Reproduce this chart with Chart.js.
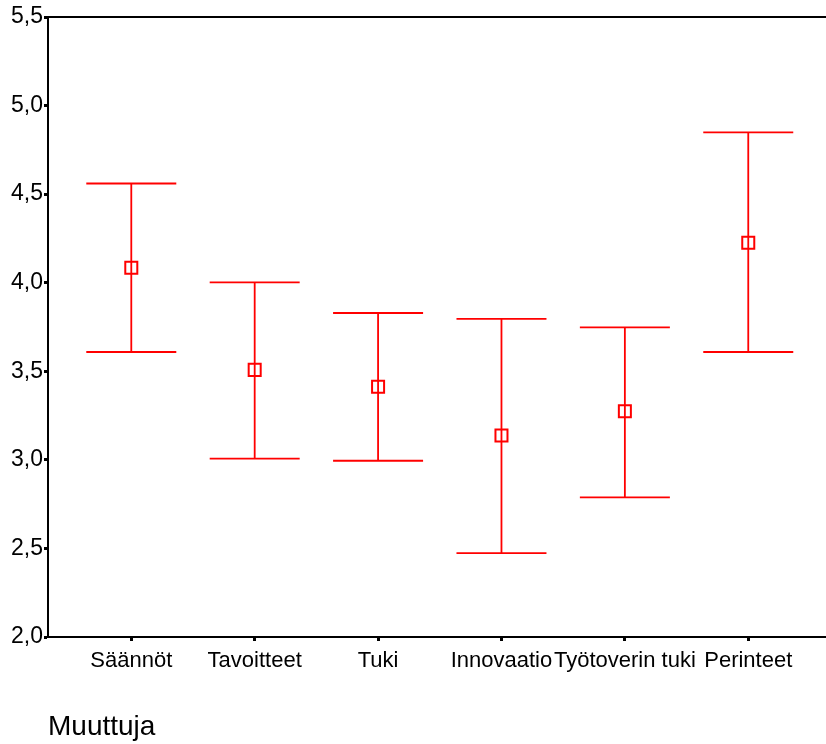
<!DOCTYPE html>
<html>
<head>
<meta charset="utf-8">
<script src="https://cdn.jsdelivr.net/npm/chart.js@4.4.1/dist/chart.umd.min.js"></script>
<style>
  html, body { margin: 0; padding: 0; background: #fff; }
  #wrap { width: 826px; height: 744px; }
</style>
</head>
<body>
<div id="wrap"><canvas id="myChart" width="826" height="744"></canvas></div>
<script>
// data
const categories = ["Säännöt", "Tavoitteet", "Tuki", "Innovaatio", "Työtoverin tuki", "Perinteet"];
const means = [4.085, 3.508, 3.413, 3.137, 3.274, 4.225];
const lower = [3.609, 3.007, 2.995, 2.474, 2.788, 3.609];
const upper = [4.560, 4.002, 3.829, 3.796, 3.748, 4.849];
const yTicks = [2.0, 2.5, 3.0, 3.5, 4.0, 4.5, 5.0, 5.5];

const red = "#ff0000";

// draws the error bars (vertical line + caps) using the chart scales
const errorBars = {
  id: "errorBars",
  afterDatasetsDraw(chart) {
    const ctx = chart.ctx;
    const xs = chart.scales.x;
    const ys = chart.scales.y;
    const cap = 45;
    ctx.save();
    ctx.strokeStyle = red;
    ctx.lineWidth = 1.8;
    categories.forEach((c, i) => {
      const px = xs.getPixelForValue(i + 1);
      const yu = ys.getPixelForValue(upper[i]);
      const yl = ys.getPixelForValue(lower[i]);
      ctx.beginPath();
      ctx.moveTo(px, yu);
      ctx.lineTo(px, yl);
      ctx.moveTo(px - cap, yu);
      ctx.lineTo(px + cap, yu);
      ctx.moveTo(px - cap, yl);
      ctx.lineTo(px + cap, yl);
      ctx.stroke();
    });
    ctx.restore();
  }
};

// top frame line
const topLine = {
  id: "topLine",
  afterDraw(chart) {
    const { ctx, chartArea } = chart;
    ctx.save();
    ctx.strokeStyle = "#000";
    ctx.lineWidth = 2;
    ctx.beginPath();
    ctx.moveTo(chartArea.left - 1, chartArea.top);
    ctx.lineTo(chart.width, chartArea.top);
    ctx.stroke();
    ctx.restore();
  }
};

Chart.defaults.color = "#000";
Chart.defaults.font.family = "'Liberation Sans', Arial, sans-serif";

const data = {
  datasets: [
    {
      label: "Muuttuja",
      data: means.map((m, i) => ({ x: i + 1, y: m })),
      pointStyle: "rect",
      pointRadius: 8.5,
      pointHoverRadius: 8.5,
      borderColor: red,
      backgroundColor: "rgba(0,0,0,0)",
      pointBorderWidth: 2,
      showLine: false,
    },
  ],
};

const config = {
  type: "scatter",
  data,
  plugins: [errorBars, topLine],
  options: {
    responsive: false,
    animation: false,
    events: [],
    layout: { autoPadding: false, padding: { top: 17, right: 0, left: 0, bottom: 0 } },
    plugins: {
      legend: { display: false },
      tooltip: { enabled: false },
    },
    scales: {
      x: {
        type: "linear",
        min: 0.325,
        max: 6.63,
        afterBuildTicks: (s) => {
          s.ticks = categories.map((c, i) => ({ value: i + 1 }));
        },
        afterFit: (s) => {
          s.height = 107;
          s.paddingLeft = 0;
          s.paddingRight = 0;
        },
        ticks: {
          autoSkip: false,
          maxRotation: 0,
          padding: 7,
          font: { size: 22 },
          callback: (v) => categories[v - 1],
        },
        grid: {
          display: true,
          drawOnChartArea: false,
          drawTicks: true,
          tickLength: 4,
          tickWidth: 3,
          tickColor: "#000",
        },
        border: { display: true, color: "#000", width: 2 },
        title: {
          display: true,
          text: "Muuttuja",
          align: "start",
          font: { size: 28 },
          padding: { top: 0, bottom: 0 },
        },
      },
      y: {
        min: 2,
        max: 5.5,
        afterBuildTicks: (s) => {
          s.ticks = yTicks.map((v) => ({ value: v }));
        },
        afterFit: (s) => {
          s.width = 48;
          s.paddingTop = 0;
          s.paddingBottom = 0;
        },
        ticks: {
          padding: 1,
          font: { size: 23 },
          callback: (v) => v.toFixed(1).replace(".", ","),
        },
        grid: {
          display: true,
          drawOnChartArea: false,
          drawTicks: true,
          tickLength: 4,
          tickWidth: 3,
          tickColor: "#000",
        },
        border: { display: true, color: "#000", width: 2 },
      },
    },
  },
};

const myChart = new Chart(document.getElementById("myChart"), config);
</script>
</body>
</html>
